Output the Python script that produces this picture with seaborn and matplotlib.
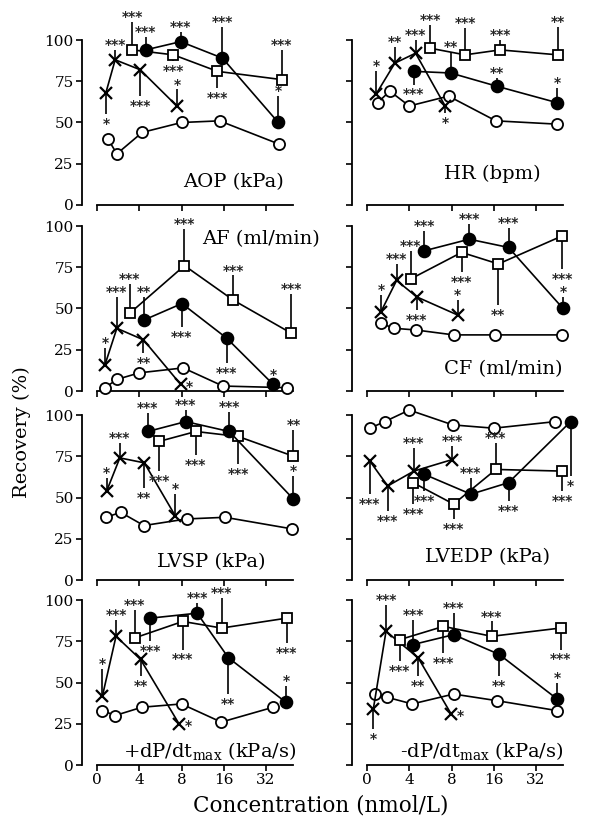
import matplotlib
matplotlib.use("Agg")
import matplotlib.pyplot as plt
import numpy as np
import seaborn as sns

sns.set_theme(style="ticks")
plt.rcParams["font.family"] = ["DejaVu Serif", "DejaVu Sans"]
plt.rcParams["mathtext.fontset"] = "dejavuserif"

# concentration (nmol/L): 0,4,8,16,32 drawn evenly spaced
conc_pos = [0, 1, 2, 3, 4]
conc_labels = ["0", "4", "8", "16", "32"]
rec_ticks = [0, 25, 50, 75, 100]

# ---- AOP
aop_open_x = [0.26, 0.47, 1.07, 2.0, 2.9, 4.3]
aop_open_y = [40, 31, 44, 50, 51, 37]
aop_x_x = [0.21, 0.43, 1.02, 1.89]
aop_x_y = [68, 88, 82, 60]
aop_x_err = [-13, 6, -16, 10]
aop_x_sig = ["*", "***", "***", "*"]
aop_sq_x = [0.84, 1.81, 2.85, 4.37]
aop_sq_y = [94, 91, 81, 76]
aop_sq_err = [17, -4, -10, 18]
aop_sq_sig = ["***", "***", "***", "***"]
aop_fill_x = [1.15, 1.98, 2.97, 4.29]
aop_fill_y = [94, 99, 89, 50]
aop_fill_err = [8, 6, 19, 16]
aop_fill_sig = ["***", "***", "***", "*"]

# ---- HR
hr_open_x = [0.25, 0.54, 1.0, 1.93, 3.05, 4.5]
hr_open_y = [62, 69, 60, 66, 51, 49]
hr_x_x = [0.21, 0.66, 1.15, 1.85]
hr_x_y = [67, 86, 92, 60]
hr_x_err = [14, 10, 8, -4]
hr_x_sig = ["*", "**", "***", "*"]
hr_sq_x = [1.5, 2.32, 3.15, 4.52]
hr_sq_y = [95, 91, 94, 91]
hr_sq_err = [14, 16, 6, 17]
hr_sq_sig = ["***", "***", "***", "**"]
hr_fill_x = [1.11, 1.98, 3.07, 4.5]
hr_fill_y = [81, 80, 72, 62]
hr_fill_err = [-8, 13, 5, 9]
hr_fill_sig = ["***", "**", "**", "*"]

# ---- AF
af_open_x = [0.19, 0.47, 1.0, 2.04, 2.98, 4.5]
af_open_y = [2, 7, 11, 14, 3, 2]
af_x_x = [0.19, 0.47, 1.1, 1.98]
af_x_y = [16, 38, 31, 4]
af_x_err = [10, 19, -8, 0]
af_x_sig = ["*", "***", "**", "*"]
af_sq_x = [0.77, 2.07, 3.23, 4.6]
af_sq_y = [47, 76, 55, 35]
af_sq_err = [18, 22, 15, 24]
af_sq_sig = ["***", "***", "***", "***"]
af_fill_x = [1.11, 2.01, 3.07, 4.17]
af_fill_y = [43, 53, 32, 4]
af_fill_err = [14, -14, -15, 3]
af_fill_sig = ["**", "***", "***", "*"]

# ---- CF
cf_open_x = [0.33, 0.64, 1.15, 2.05, 3.04, 4.62]
cf_open_y = [41, 38, 37, 34, 34, 34]
cf_x_x = [0.33, 0.7, 1.18, 2.15]
cf_x_y = [48, 67, 57, 46]
cf_x_err = [10, 10, -8, 9]
cf_x_sig = ["*", "***", "***", "*"]
cf_sq_x = [1.04, 2.24, 3.11, 4.62]
cf_sq_y = [68, 84, 77, 94]
cf_sq_err = [17, -12, -25, -20]
cf_sq_sig = ["***", "***", "**", "***"]
cf_fill_x = [1.36, 2.42, 3.35, 4.64]
cf_fill_y = [85, 92, 87, 50]
cf_fill_err = [12, 9, 12, 7]
cf_fill_sig = ["***", "***", "***", "*"]

# ---- LVSP
lvsp_open_x = [0.21, 0.56, 1.11, 2.12, 3.03, 4.61]
lvsp_open_y = [38, 41, 33, 37, 38, 31]
lvsp_x_x = [0.23, 0.54, 1.12, 1.85]
lvsp_x_y = [54, 74, 71, 39]
lvsp_x_err = [8, 9, -15, 13]
lvsp_x_sig = ["*", "***", "**", "*"]
lvsp_sq_x = [1.47, 2.34, 3.34, 4.65]
lvsp_sq_y = [84, 90, 87, 75]
lvsp_sq_err = [-18, -14, -17, 16]
lvsp_sq_sig = ["***", "***", "***", "**"]
lvsp_fill_x = [1.2, 2.1, 3.13, 4.65]
lvsp_fill_y = [90, 96, 90, 49]
lvsp_fill_err = [11, 7, 12, 14]
lvsp_fill_sig = ["***", "***", "***", "*"]

# ---- LVEDP
lvedp_open_x = [0.07, 0.42, 1.0, 2.03, 3.0, 4.46]
lvedp_open_y = [92, 96, 103, 94, 92, 96]
lvedp_x_x = [0.07, 0.49, 1.11, 2.02]
lvedp_x_y = [72, 57, 66, 73]
lvedp_x_err = [-20, -15, 14, 8]
lvedp_x_sig = ["***", "***", "***", "***"]
lvedp_sq_x = [1.09, 2.05, 3.05, 4.62]
lvedp_sq_y = [59, 46, 67, 66]
lvedp_sq_err = [-13, -9, 16, -12]
lvedp_sq_sig = ["***", "***", "***", "***"]
lvedp_fill_x = [1.36, 2.46, 3.35, 4.82]
lvedp_fill_y = [64, 52, 59, 96]
lvedp_fill_err = [-10, 10, -11, -33]
lvedp_fill_sig = ["***", "***", "***", "*"]

# ---- +dP/dt max
pdp_open_x = [0.13, 0.43, 1.06, 2.0, 2.94, 4.17]
pdp_open_y = [33, 30, 35, 37, 26, 35]
pdp_x_x = [0.13, 0.45, 1.03, 1.94]
pdp_x_y = [42, 78, 64, 25]
pdp_x_err = [16, 10, -10, 0]
pdp_x_sig = ["*", "***", "**", "*"]
pdp_sq_x = [0.89, 2.03, 2.95, 4.49]
pdp_sq_y = [77, 87, 83, 89]
pdp_sq_err = [17, -17, 18, -15]
pdp_sq_sig = ["***", "***", "***", "***"]
pdp_fill_x = [1.26, 2.37, 3.11, 4.47]
pdp_fill_y = [89, 92, 65, 38]
pdp_fill_err = [-14, 6, -22, 10]
pdp_fill_sig = ["***", "***", "**", "*"]

# ---- -dP/dt max
ndp_open_x = [0.19, 0.48, 1.07, 2.05, 3.07, 4.49]
ndp_open_y = [43, 41, 37, 43, 39, 33]
ndp_x_x = [0.15, 0.45, 1.21, 1.99]
ndp_x_y = [34, 81, 65, 31]
ndp_x_err = [-12, 16, -11, 0]
ndp_x_sig = ["*", "***", "**", "*"]
ndp_sq_x = [0.78, 1.81, 2.95, 4.58]
ndp_sq_y = [76, 84, 78, 83]
ndp_sq_err = [-13, -16, 9, -13]
ndp_sq_sig = ["***", "***", "***", "***"]
ndp_fill_x = [1.09, 2.05, 3.13, 4.5]
ndp_fill_y = [73, 79, 67, 40]
ndp_fill_err = [15, 13, -13, 10]
ndp_fill_sig = ["***", "***", "**", "*"]

# panel: title, (col, row), title pos (axes fraction), series
panels = [
    ("AOP (kPa)", 0, 0, (0.70, 0.14),
     (aop_open_x, aop_open_y), (aop_x_x, aop_x_y, aop_x_err, aop_x_sig),
     (aop_sq_x, aop_sq_y, aop_sq_err, aop_sq_sig), (aop_fill_x, aop_fill_y, aop_fill_err, aop_fill_sig)),
    ("HR (bpm)", 1, 0, (0.65, 0.19),
     (hr_open_x, hr_open_y), (hr_x_x, hr_x_y, hr_x_err, hr_x_sig),
     (hr_sq_x, hr_sq_y, hr_sq_err, hr_sq_sig), (hr_fill_x, hr_fill_y, hr_fill_err, hr_fill_sig)),
    ("AF (ml/min)", 0, 1, (0.83, 0.92),
     (af_open_x, af_open_y), (af_x_x, af_x_y, af_x_err, af_x_sig),
     (af_sq_x, af_sq_y, af_sq_err, af_sq_sig), (af_fill_x, af_fill_y, af_fill_err, af_fill_sig)),
    ("CF (ml/min)", 1, 1, (0.70, 0.13),
     (cf_open_x, cf_open_y), (cf_x_x, cf_x_y, cf_x_err, cf_x_sig),
     (cf_sq_x, cf_sq_y, cf_sq_err, cf_sq_sig), (cf_fill_x, cf_fill_y, cf_fill_err, cf_fill_sig)),
    ("LVSP (kPa)", 0, 2, (0.60, 0.11),
     (lvsp_open_x, lvsp_open_y), (lvsp_x_x, lvsp_x_y, lvsp_x_err, lvsp_x_sig),
     (lvsp_sq_x, lvsp_sq_y, lvsp_sq_err, lvsp_sq_sig), (lvsp_fill_x, lvsp_fill_y, lvsp_fill_err, lvsp_fill_sig)),
    ("LVEDP (kPa)", 1, 2, (0.63, 0.14),
     (lvedp_open_x, lvedp_open_y), (lvedp_x_x, lvedp_x_y, lvedp_x_err, lvedp_x_sig),
     (lvedp_sq_x, lvedp_sq_y, lvedp_sq_err, lvedp_sq_sig), (lvedp_fill_x, lvedp_fill_y, lvedp_fill_err, lvedp_fill_sig)),
    ("+dP/dt$_{\\mathrm{max}}$ (kPa/s)", 0, 3, (0.59, 0.085),
     (pdp_open_x, pdp_open_y), (pdp_x_x, pdp_x_y, pdp_x_err, pdp_x_sig),
     (pdp_sq_x, pdp_sq_y, pdp_sq_err, pdp_sq_sig), (pdp_fill_x, pdp_fill_y, pdp_fill_err, pdp_fill_sig)),
    ("-dP/dt$_{\\mathrm{max}}$ (kPa/s)", 1, 3, (0.60, 0.085),
     (ndp_open_x, ndp_open_y), (ndp_x_x, ndp_x_y, ndp_x_err, ndp_x_sig),
     (ndp_sq_x, ndp_sq_y, ndp_sq_err, ndp_sq_sig), (ndp_fill_x, ndp_fill_y, ndp_fill_err, ndp_fill_sig)),
]

W, H = 592, 822
fig = plt.figure(figsize=(W / 100, H / 100), dpi=100)
fig.patch.set_facecolor("white")

col_left = [82, 352]
row_top = [40, 226, 415, 600]
ax_w, ax_h = 215.7, 165

mk_open = dict(marker="o", markersize=8, markerfacecolor="white", markeredgewidth=1.3)
mk_x = dict(marker="x", markersize=8, markeredgewidth=1.6)
mk_sq = dict(marker="s", markersize=7.5, markerfacecolor="white", markeredgewidth=1.3)
mk_fill = dict(marker="o", markersize=8.5, markerfacecolor="black", markeredgewidth=1.3)


def stars(ax, xs, ys, errs, sigs):
    for x, y, e, s in zip(xs, ys, errs, sigs):
        if e != 0:
            ax.vlines(x, y, y + e, color="black", lw=1.2, zorder=1, clip_on=False)
            ax.text(x, y + e + np.sign(e) * 4.5 - 1.5, s, ha="center", va="center",
                    fontsize=10, fontweight="bold", family="DejaVu Sans", clip_on=False)
        else:
            ax.text(x + 0.13, y - 1.5, s, ha="left", va="center",
                    fontsize=10, fontweight="bold", family="DejaVu Sans", clip_on=False)


for title, col, row, tpos, s_open, s_x, s_sq, s_fill in panels:
    ax = fig.add_axes([col_left[col] / W, 1 - (row_top[row] + ax_h) / H, ax_w / W, ax_h / H])
    ax.set_facecolor("none")
    for (xs, ys, *rest), mk in [(s_open, mk_open), (s_x, mk_x), (s_sq, mk_sq), (s_fill, mk_fill)]:
        sns.lineplot(x=xs, y=ys, ax=ax, color="black", linewidth=1.2, estimator=None, sort=False,
                     markeredgecolor="black", clip_on=False, zorder=3, legend=False, **mk)
        if rest:
            stars(ax, xs, ys, rest[0], rest[1])
    ax.set_xlim(-0.355, 4.75)
    ax.set_ylim(0, 100)
    ax.set_xticks(conc_pos)
    ax.set_yticks(rec_ticks)
    ax.set_xticklabels(conc_labels if row == 3 else [])
    ax.set_yticklabels([str(t) for t in rec_ticks] if col == 0 else [])
    sns.despine(ax=ax)
    ax.spines["left"].set_bounds(0, 100)
    ax.spines["bottom"].set_bounds(0, 4.65)
    for sp in ("left", "bottom"):
        ax.spines[sp].set_color("black")
        ax.spines[sp].set_linewidth(1.3)
    ax.tick_params(direction="out", length=4.5, width=1.2, color="black",
                   labelsize=11, labelcolor="black", pad=1.5)
    ax.text(tpos[0], tpos[1], title, transform=ax.transAxes, ha="center", va="center",
            fontsize=14, color="black")

fig.text(22 / W, 1 - 432 / H, "Recovery (%)", rotation=90, ha="center", va="center",
         fontsize=14, color="black")
fig.text(321 / W, 1 - 805 / H, "Concentration (nmol/L)", ha="center", va="center",
         fontsize=15.5, color="black")

fig.savefig("out.png", dpi=100, facecolor="white")
